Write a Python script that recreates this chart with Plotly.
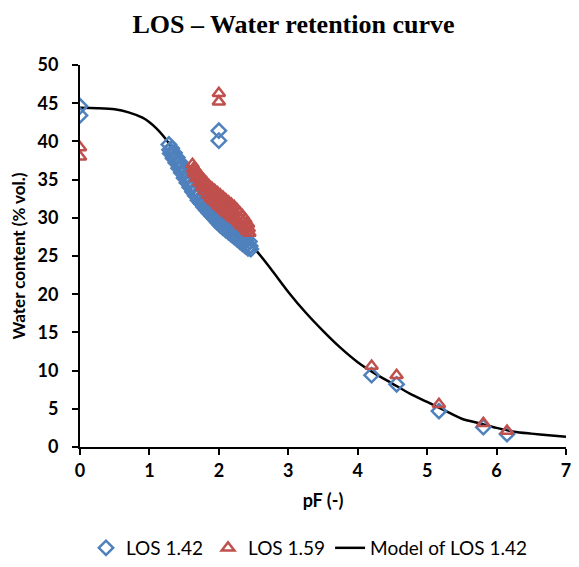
import plotly.graph_objects as go

# --- Data ---
# LOS 1.42 (blue diamonds): isolated lab points
blue_pf = [0.0, 0.0, 2.0, 2.0, 4.2, 4.56, 5.17, 5.81, 6.15]
blue_wc = [44.6, 43.4, 41.4, 40.1, 9.4, 8.2, 4.7, 2.6, 1.7]
# LOS 1.42 dense measurement band (three rows)
blue_band1_pf = [1.28, 1.32, 1.36, 1.40, 1.44, 1.48, 1.52, 1.56, 1.60, 1.64, 1.68, 1.72, 1.76, 1.80, 1.84,
                 1.88, 1.92, 1.96, 2.00, 2.04, 2.08, 2.12, 2.16, 2.20, 2.24, 2.28, 2.32, 2.36, 2.40, 2.44]
blue_band1_wc = [39.6, 39.1, 38.5, 37.9, 37.3, 36.7, 36.0, 35.4, 34.8, 34.2, 33.7, 33.2, 32.8, 32.3, 31.9,
                 31.5, 31.1, 30.7, 30.4, 30.0, 29.7, 29.4, 29.0, 28.7, 28.4, 28.1, 27.8, 27.5, 27.2, 26.9]
blue_band2_pf = [1.30, 1.34, 1.38, 1.42, 1.46, 1.50, 1.54, 1.58, 1.62, 1.66, 1.70, 1.74, 1.78, 1.82, 1.86,
                 1.90, 1.94, 1.98, 2.02, 2.06, 2.10, 2.14, 2.18, 2.22, 2.26, 2.30, 2.34, 2.38, 2.42, 2.46]
blue_band2_wc = [38.4, 37.8, 37.2, 36.5, 35.9, 35.2, 34.6, 34.0, 33.4, 32.9, 32.3, 31.9, 31.4, 31.0, 30.6,
                 30.2, 29.8, 29.4, 29.0, 28.7, 28.4, 28.1, 27.8, 27.5, 27.2, 26.9, 26.6, 26.3, 26.0, 25.9]
blue_band3_pf = [1.29, 1.33, 1.37, 1.41, 1.45, 1.49, 1.53, 1.57, 1.61, 1.65, 1.69, 1.73, 1.77, 1.81, 1.85,
                 1.89, 1.93, 1.97, 2.01, 2.05, 2.09, 2.13, 2.17, 2.21, 2.25, 2.29, 2.33, 2.37, 2.41, 2.45]
blue_band3_wc = [38.9, 38.4, 37.8, 37.2, 36.6, 36.0, 35.3, 34.7, 34.1, 33.5, 33.0, 32.5, 32.1, 31.6, 31.2,
                 30.8, 30.4, 30.0, 29.7, 29.3, 29.0, 28.7, 28.3, 28.0, 27.7, 27.4, 27.1, 26.8, 26.5, 26.3]

# LOS 1.59 (red triangles): isolated lab points
red_pf = [0.0, 0.0, 2.0, 2.0, 4.2, 4.56, 5.17, 5.81, 6.15]
red_wc = [39.2, 38.0, 46.3, 45.2, 10.6, 9.4, 5.6, 3.1, 2.1]
# LOS 1.59 dense measurement band (three rows)
red_band1_pf = [1.62, 1.66, 1.70, 1.74, 1.78, 1.82, 1.86, 1.90, 1.94, 1.98, 2.02, 2.06, 2.10, 2.14, 2.18,
                2.22, 2.26, 2.30, 2.34, 2.38, 2.42]
red_band1_wc = [37.0, 36.4, 35.9, 35.4, 35.0, 34.6, 34.2, 33.9, 33.6, 33.3, 33.0, 32.7, 32.4, 32.1, 31.8,
                31.5, 31.1, 30.7, 30.3, 29.8, 29.2]
red_band2_pf = [1.64, 1.68, 1.72, 1.76, 1.80, 1.84, 1.88, 1.92, 1.96, 2.00, 2.04, 2.08, 2.12, 2.16, 2.20,
                2.24, 2.28, 2.32, 2.36, 2.40, 2.44]
red_band2_wc = [35.8, 35.2, 34.6, 34.0, 33.5, 33.0, 32.6, 32.2, 31.9, 31.5, 31.2, 30.9, 30.6, 30.3, 30.0,
                29.7, 29.4, 29.0, 28.7, 28.3, 28.0]
red_band3_pf = [1.63, 1.67, 1.71, 1.75, 1.79, 1.83, 1.87, 1.91, 1.95, 1.99, 2.03, 2.07, 2.11, 2.15, 2.19,
                2.23, 2.27, 2.31, 2.35, 2.39, 2.43]
red_band3_wc = [36.4, 35.8, 35.3, 34.8, 34.3, 33.9, 33.5, 33.2, 32.8, 32.5, 32.2, 31.9, 31.6, 31.3, 31.0,
                30.7, 30.3, 29.9, 29.5, 29.1, 28.6]

# Model of LOS 1.42 (black line)
model_pf = [0.0, 0.25, 0.5, 0.7, 0.9, 1.0, 1.1, 1.2, 1.3, 1.45, 1.6, 1.8, 2.0, 2.25, 2.5, 2.75, 3.0, 3.25,
            3.5, 3.75, 4.0, 4.25, 4.5, 4.75, 5.0, 5.25, 5.5, 5.75, 6.0, 6.25, 6.5, 6.75, 7.0]
model_wc = [44.4, 44.35, 44.2, 43.8, 43.1, 42.5, 41.7, 40.7, 39.5, 37.5, 35.4, 32.8, 30.4, 28.0, 26.1, 23.3,
            20.3, 17.6, 15.2, 13.0, 11.1, 9.6, 8.3, 7.0, 5.9, 4.8, 3.7, 3.1, 2.5, 2.0, 1.75, 1.55, 1.35]

x_ticks = [0, 1, 2, 3, 4, 5, 6, 7]
y_ticks = [0, 5, 10, 15, 20, 25, 30, 35, 40, 45, 50]

BLUE = "#4F81BD"
RED = "#C0504D"
FONT = "Lato"

fig = go.Figure()

fig.add_trace(go.Scatter(
    x=model_pf, y=model_wc, mode="lines", name="Model of LOS 1.42",
    line=dict(color="black", width=2.5, shape="spline", smoothing=0.8),
    legendrank=3,
))

blue_x = blue_band1_pf + blue_band3_pf + blue_band2_pf + blue_pf
blue_y = blue_band1_wc + blue_band3_wc + blue_band2_wc + blue_wc
fig.add_trace(go.Scatter(
    x=blue_x, y=blue_y, mode="markers", name="LOS 1.42",
    marker=dict(symbol="diamond-open", size=11, color=BLUE, line=dict(width=2.5, color=BLUE)),
    legendrank=1,
))

red_x = red_band1_pf + red_band3_pf + red_band2_pf + red_pf
red_y = red_band1_wc + red_band3_wc + red_band2_wc + red_wc
fig.add_trace(go.Scatter(
    x=red_x, y=red_y, mode="markers", name="LOS 1.59",
    marker=dict(symbol="triangle-up-open", size=11, color=RED, line=dict(width=2.5, color=RED)),
    legendrank=2,
))

# page has an 8px body margin: figure is placed at (8, 8)
fig.update_layout(
    width=571, height=551,
    paper_bgcolor="white", plot_bgcolor="white",
    margin=dict(l=72, r=13, t=57, b=112, autoexpand=False),
    title=dict(text="<b>LOS – Water retention curve</b>", x=0.5, xanchor="center",
               y=0.972, yanchor="middle",
               font=dict(family="Liberation Serif", size=26, color="black")),
    font=dict(family=FONT, color="black"),
    legend=dict(orientation="h", x=0.528, xanchor="center", xref="container",
                y=0.02, yanchor="middle", yref="container",
                font=dict(family=FONT, size=19, color="black"),
                itemwidth=30, tracegroupgap=0),
    xaxis=dict(
        range=[0, 7], tickvals=x_ticks, ticktext=[f"<b>{v}</b>" for v in x_ticks],
        showgrid=False, zeroline=False,
        showline=True, linecolor="black", linewidth=2,
        ticks="outside", ticklen=6, tickwidth=2, tickcolor="black",
        ticklabeloverflow="allow",
        tickfont=dict(family=FONT, size=18, color="black"),
        title=dict(text="<b>pF (-)</b>", font=dict(family=FONT, size=18, color="black"), standoff=15),
    ),
    yaxis=dict(
        range=[0, 50], tickvals=y_ticks, ticktext=[f"<b>{v}</b>" for v in y_ticks],
        showgrid=False, zeroline=False,
        showline=True, linecolor="black", linewidth=2,
        ticks="outside", ticklen=6, tickwidth=2, tickcolor="black",
        ticklabelstandoff=10,
        tickfont=dict(family=FONT, size=18, color="black"),
        title=dict(text="<b>Water content (% vol.)</b>", font=dict(family=FONT, size=17, color="black"),
                   standoff=10),
    ),
)

fig.write_html("out.html")
